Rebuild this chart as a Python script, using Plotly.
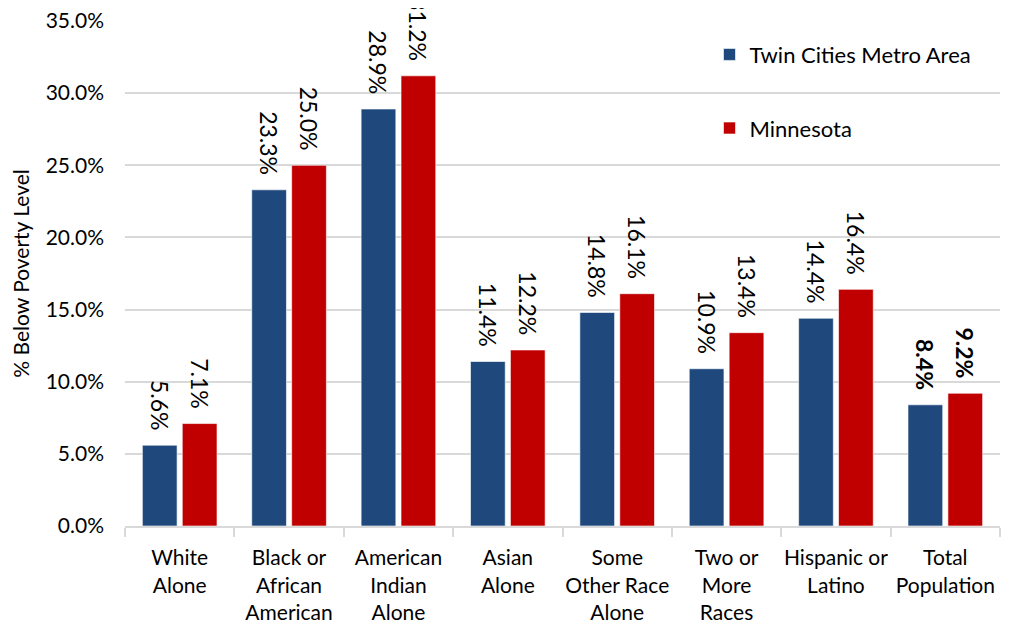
import plotly.graph_objects as go

categories = ["White<br>Alone", "Black or<br>African<br>American", "American<br>Indian<br>Alone",
              "Asian<br>Alone", "Some<br>Other Race<br>Alone", "Two or<br>More<br>Races",
              "Hispanic or<br>Latino", "Total<br>Population"]
metro = [5.6, 23.3, 28.9, 11.4, 14.8, 10.9, 14.4, 8.4]
minnesota = [7.1, 25.0, 31.2, 12.2, 16.1, 13.4, 16.4, 9.2]
series_names = ["Twin Cities Metro Area", "Minnesota"]
y_ticks = [0, 5, 10, 15, 20, 25, 30, 35]

FONT = "Lato"
PAD = "\u00a0\u00a0"

def labels(vals):
    out = []
    for i, v in enumerate(vals):
        s = f"{v:.1f}%"
        if i == len(vals) - 1:
            s = f"<b>{s}</b>"
        out.append(s + PAD)
    return out

fig = go.Figure()
for name, vals, color, grp in [(series_names[0], metro, "#1F497D", "a"),
                               (series_names[1], minnesota, "#C00000", "b")]:
    fig.add_trace(go.Bar(
        x=categories, y=vals, name=name, legendgroup=grp,
        marker=dict(color=color, line=dict(color="rgba(255,255,255,0.6)", width=1)),
        text=labels(vals), textposition="outside", textangle=90,
        textfont=dict(family=FONT, size=23, color="#000000"),
        cliponaxis=False, constraintext="none",
    ))

fig.update_layout(
    width=1003, height=620,
    margin=dict(l=117, r=11, t=13, b=102),
    paper_bgcolor="white", plot_bgcolor="white",
    barmode="group", bargap=0.27, bargroupgap=0.13,
    font=dict(family=FONT, size=21, color="#000000"),
    legend=dict(x=0.668, y=0.975, xanchor="left", yanchor="top",
                font=dict(family=FONT, size=22), tracegroupgap=42,
                bgcolor="rgba(0,0,0,0)", itemwidth=30),
    yaxis=dict(range=[0, 35], tickvals=y_ticks,
               ticktext=[f"{t:.1f}%" for t in y_ticks],
               showgrid=True, gridcolor="#D9D9D9", gridwidth=1.5,
               zeroline=False, showline=False, ticks="",
               ticklabelstandoff=20, automargin=False, ticklabeloverflow="allow",
               tickfont=dict(family=FONT, size=21),
               title=dict(text="% Below Poverty Level", font=dict(family=FONT, size=21), standoff=23)),
    xaxis=dict(showline=True, linecolor="#D9D9D9", linewidth=2,
               ticks="outside", tickson="boundaries", ticklen=9, tickcolor="#D9D9D9", tickwidth=2,
               ticklabelstandoff=12, automargin=False, tickangle=0, ticklabeloverflow="allow",
               tickfont=dict(family=FONT, size=21)),
)

fig.write_html("out.html")
